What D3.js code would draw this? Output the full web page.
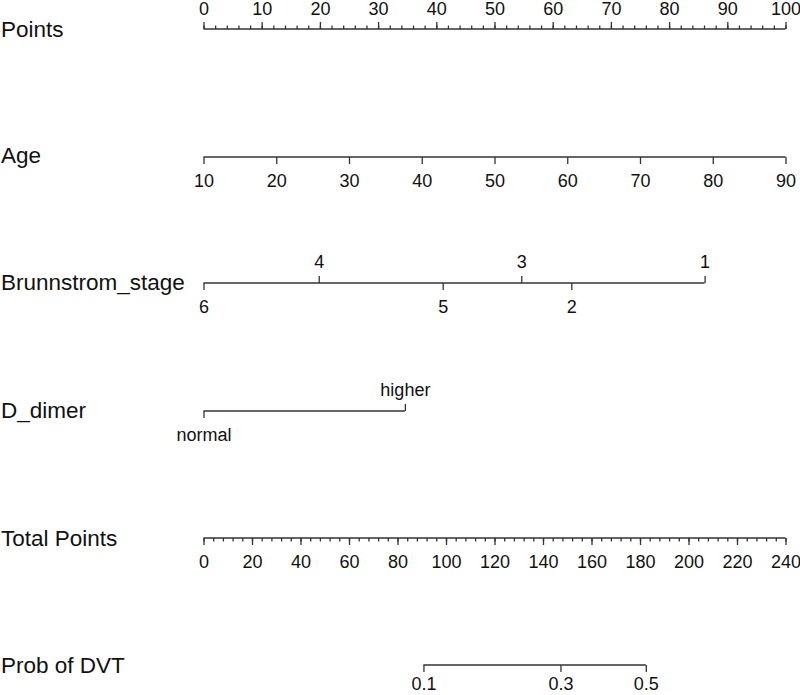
<!DOCTYPE html>
<html><head><meta charset="utf-8">
<script src="https://cdn.jsdelivr.net/npm/d3@7"></script>
<style>body{margin:0;background:#fff}svg{display:block}</style>
</head><body>
<svg id="c" width="800" height="695"></svg>
<script>
// Data
const rowLabels = ["Points", "Age", "Brunnstrom_stage", "D_dimer", "Total Points", "Prob of DVT"];
const pointsTicks = [0,10,20,30,40,50,60,70,80,90,100];
const ageTicks = [10,20,30,40,50,60,70,80,90];
const brunnLabels = ["6","4","5","3","2","1"];
const brunnPoints = [0, 19.8, 41.1, 54.6, 63.2, 86.1];
const brunnSide   = ["below","above","below","above","below","above"];
const ddimerLabels = ["normal","higher"];
const ddimerPoints = [0, 34.6];
const ddimerSide = ["below","above"];
const totalTicks = [0,20,40,60,80,100,120,140,160,180,200,220,240];
const probLabels = ["0.1","0.3","0.5"];
const probTotalPoints = [90.7, 147.2, 182.4];

const svg = d3.select("#c");
const x0 = 203.5, x1 = 785.5;
const pts = d3.scaleLinear().domain([0,100]).range([x0,x1]);
const age = d3.scaleLinear().domain([10,90]).range([x0,x1]);
const tot = d3.scaleLinear().domain([0,240]).range([x0,x1]);
const rowY = [29, 157, 283, 411, 538, 665];
const labelBase = [37, 163, 290, 418, 546, 673];
const lineCol = "#333";
const font = "Liberation Sans, Arial, sans-serif";
const tickFont = 18;

// row labels
svg.selectAll("text.row").data(rowLabels).join("text")
  .attr("class","row")
  .attr("x", 1).attr("y", (d,i)=> labelBase[i])
  .attr("font-family", font).attr("font-size", 22.5).attr("fill","#111")
  .text(d=>d);

function styleAxis(g, showText){
  g.select(".domain").remove();
  g.attr("font-size", tickFont).attr("font-family", font);
  g.selectAll(".tick line").attr("stroke", lineCol).attr("stroke-width",1.3);
  g.selectAll(".tick text").attr("font-family", font).attr("font-size", tickFont).attr("fill","#111");
  if(!showText) g.selectAll(".tick text").remove();
}
function baseLine(y, a, b){
  svg.append("line").attr("x1",a).attr("x2",b).attr("y1",y).attr("y2",y)
    .attr("stroke", lineCol).attr("stroke-width",1.3);
}

// Points axis
baseLine(rowY[0], pts(0), pts(100));
svg.append("g").attr("transform",`translate(0,${rowY[0]})`)
  .call(d3.axisTop(pts).tickValues(d3.range(0,101,2)).tickSize(3.5).tickSizeOuter(0).tickFormat(""))
  .call(g=>styleAxis(g,false));
svg.append("g").attr("transform",`translate(0,${rowY[0]})`)
  .call(d3.axisTop(pts).tickValues(pointsTicks).tickSize(7).tickSizeOuter(0).tickPadding(7.5))
  .call(g=>styleAxis(g,true));

// Age axis
baseLine(rowY[1], age(10), age(90));
svg.append("g").attr("transform",`translate(0,${rowY[1]})`)
  .call(d3.axisBottom(age).tickValues(ageTicks).tickSize(7).tickSizeOuter(0).tickPadding(10))
  .call(g=>styleAxis(g,true));

// categorical rows
function catRow(y, labels, points, side){
  baseLine(y, pts(d3.min(points)), pts(d3.max(points)));
  const items = labels.map((l,i)=>({l,p:points[i],s:side[i]}));
  const above = items.filter(d=>d.s==="above");
  const below = items.filter(d=>d.s==="below");
  const mkAxis = (arr, axisFn, pad) => svg.append("g").attr("transform",`translate(0,${y})`)
    .call(axisFn(pts).tickValues(arr.map(d=>d.p)).tickFormat((v)=>arr.find(d=>d.p===v).l)
      .tickSize(7).tickSizeOuter(0).tickPadding(pad))
    .call(g=>styleAxis(g,true));
  mkAxis(above, d3.axisTop, 8);
  mkAxis(below, d3.axisBottom, 10);
}
catRow(rowY[2], brunnLabels, brunnPoints, brunnSide);
catRow(rowY[3], ddimerLabels, ddimerPoints, ddimerSide);

// Total points
baseLine(rowY[4], tot(0), tot(240));
svg.append("g").attr("transform",`translate(0,${rowY[4]})`)
  .call(d3.axisBottom(tot).tickValues(d3.range(0,241,4)).tickSize(3.5).tickSizeOuter(0).tickFormat(""))
  .call(g=>styleAxis(g,false));
svg.append("g").attr("transform",`translate(0,${rowY[4]})`)
  .call(d3.axisBottom(tot).tickValues(totalTicks).tickSize(7).tickSizeOuter(0).tickPadding(10))
  .call(g=>styleAxis(g,true));

// Prob of DVT
baseLine(rowY[5], tot(d3.min(probTotalPoints)), tot(d3.max(probTotalPoints)));
svg.append("g").attr("transform",`translate(0,${rowY[5]})`)
  .call(d3.axisBottom(tot).tickValues(probTotalPoints).tickFormat((v,i)=>probLabels[i])
    .tickSize(7).tickSizeOuter(0).tickPadding(5))
  .call(g=>styleAxis(g,true));
</script>
</body></html>
